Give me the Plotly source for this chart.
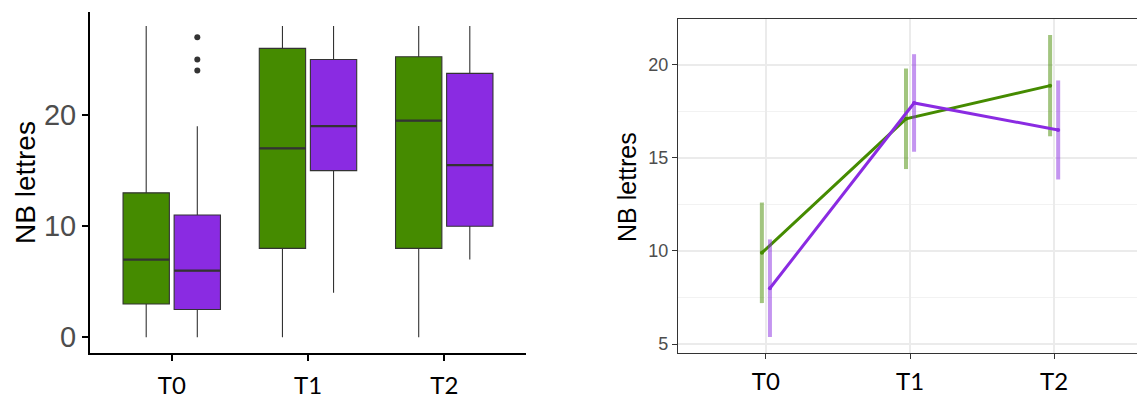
import plotly.graph_objects as go

# ---------------- data ----------------
times = ["T0", "T1", "T2"]
groups = ["G1", "G2"]
colors = {"G1": "#458B00", "G2": "#8A2BE2"}
colors_err = {"G1": "rgba(69,139,0,0.5)", "G2": "rgba(138,43,226,0.5)"}

# boxplot stats (left panel)
box_low = {"G1": [0, 0, 0], "G2": [0, 4, 7]}
box_q1 = {"G1": [3, 8, 8], "G2": [2.5, 15, 10]}
box_med = {"G1": [7, 17, 19.5], "G2": [6, 19, 15.5]}
box_q3 = {"G1": [13, 26, 25.25], "G2": [11, 25, 23.75]}
box_high = {"G1": [28, 28, 28], "G2": [19, 28, 28]}
# outliers (group, time index, value)
outlier_group = "G2"
outlier_time_idx = [0, 0, 0]
outlier_vals = [27, 25, 24]

# means and error (right panel)
mean_vals = {"G1": [9.9, 17.1, 18.88], "G2": [8.0, 17.95, 16.5]}
err_vals = {"G1": [2.7, 2.7, 2.72], "G2": [2.62, 2.62, 2.66]}

box_dodge = {"G1": -0.1875, "G2": 0.1875}
box_width = 0.34
line_dodge = {"G1": -0.028, "G2": 0.028}

fig = go.Figure()

# ---------------- left panel: boxplots ----------------
for g in groups:
    xs = [i + box_dodge[g] for i in range(len(times))]
    fig.add_trace(go.Box(
        x=xs, q1=box_q1[g], median=box_med[g], q3=box_q3[g],
        lowerfence=box_low[g], upperfence=box_high[g], width=box_width,
        fillcolor=colors[g], line=dict(color="#333333", width=1.1),
        whiskerwidth=0, boxpoints=False, name=g, showlegend=False,
        xaxis="x", yaxis="y", hoverinfo="skip",
    ))
    # thicker median line, as in ggplot
    mx, my = [], []
    for i, m in enumerate(box_med[g]):
        mx += [i + box_dodge[g] - box_width / 2, i + box_dodge[g] + box_width / 2, None]
        my += [m, m, None]
    fig.add_trace(go.Scatter(
        x=mx, y=my, mode="lines", line=dict(color="#333333", width=2.2),
        showlegend=False, xaxis="x", yaxis="y", hoverinfo="skip",
    ))

fig.add_trace(go.Scatter(
    x=[i + box_dodge[outlier_group] for i in outlier_time_idx], y=outlier_vals,
    mode="markers", marker=dict(color="#333333", size=6),
    showlegend=False, xaxis="x", yaxis="y", hoverinfo="skip",
))

# ---------------- right panel: means with error bars ----------------
for g in groups:
    xs = [i + line_dodge[g] for i in range(len(times))]
    fig.add_trace(go.Scatter(
        x=xs, y=mean_vals[g], mode="lines+markers",
        line=dict(color=colors[g], width=3),
        marker=dict(color=colors[g], size=4),
        error_y=dict(type="data", array=err_vals[g], visible=True,
                     color=colors_err[g], thickness=4, width=0),
        showlegend=False, xaxis="x2", yaxis="y2", hoverinfo="skip",
    ))

H = 398
W = 1137

fig.update_layout(
    width=W, height=H,
    margin=dict(l=0, r=0, t=0, b=0, autoexpand=False),
    paper_bgcolor="white", plot_bgcolor="white",
    showlegend=False,
    font=dict(family="Liberation Sans, Arial, sans-serif"),
    xaxis=dict(
        domain=[90 / W, 526 / W], range=[-0.6, 2.6],
        tickvals=[0, 1, 2], ticktext=times,
        showline=True, linecolor="black", linewidth=2,
        ticks="outside", ticklen=6, tickcolor="black", tickwidth=1.5,
        showgrid=False, zeroline=False, automargin=False,
        ticklabelstandoff=4,
        tickfont=dict(family="Lato", size=24, color="black"),
        anchor="y",
    ),
    yaxis=dict(
        domain=[(H - 353) / H, (H - 12) / H], range=[-1.41, 29.27],
        tickvals=[0, 10, 20],
        showline=True, linecolor="black", linewidth=2,
        ticks="outside", ticklen=6, tickcolor="black", tickwidth=1.5,
        showgrid=False, zeroline=False, automargin=False,
        tickfont=dict(size=29, color="#4D4D4D"),
        anchor="x",
    ),
    xaxis2=dict(
        domain=[678 / W, 1.0], range=[-0.61, 2.575],
        tickvals=[0, 1, 2], ticktext=times,
        showline=True, mirror=True, linecolor="#333333", linewidth=1.3,
        ticks="outside", ticklen=5, tickcolor="#333333", tickwidth=1.2,
        showgrid=True, gridcolor="#EBEBEB", gridwidth=1.6, zeroline=False,
        automargin=False, ticklabelstandoff=2,
        tickfont=dict(family="Lato", size=24, color="black"),
        anchor="y2",
    ),
    yaxis2=dict(
        domain=[(H - 353) / H, (H - 19) / H], range=[4.52, 22.46],
        tickvals=[5, 10, 15, 20],
        showline=True, mirror=True, linecolor="#333333", linewidth=1.3,
        ticks="outside", ticklen=5, tickcolor="#333333", tickwidth=1.2,
        showgrid=True, gridcolor="#EBEBEB", gridwidth=1.6, zeroline=False,
        automargin=False,
        minor=dict(showgrid=True, gridcolor="#F2F2F2", gridwidth=1, dtick=2.5, tick0=0),
        tickfont=dict(size=18, color="#4D4D4D"),
        anchor="x2",
    ),
    annotations=[
        dict(text="NB lettres", x=25 / W, y=(H - 183) / H, xref="paper", yref="paper",
             textangle=-90, showarrow=False, font=dict(size=28, color="black"),
             xanchor="center", yanchor="middle"),
        dict(text="NB lettres", x=627 / W, y=(H - 187) / H, xref="paper", yref="paper",
             textangle=-90, showarrow=False, font=dict(size=25, color="black"),
             xanchor="center", yanchor="middle"),
    ],
)

fig.write_html("out.html", config={"displayModeBar": False},
               post_script="document.body.style.margin='0px';")
